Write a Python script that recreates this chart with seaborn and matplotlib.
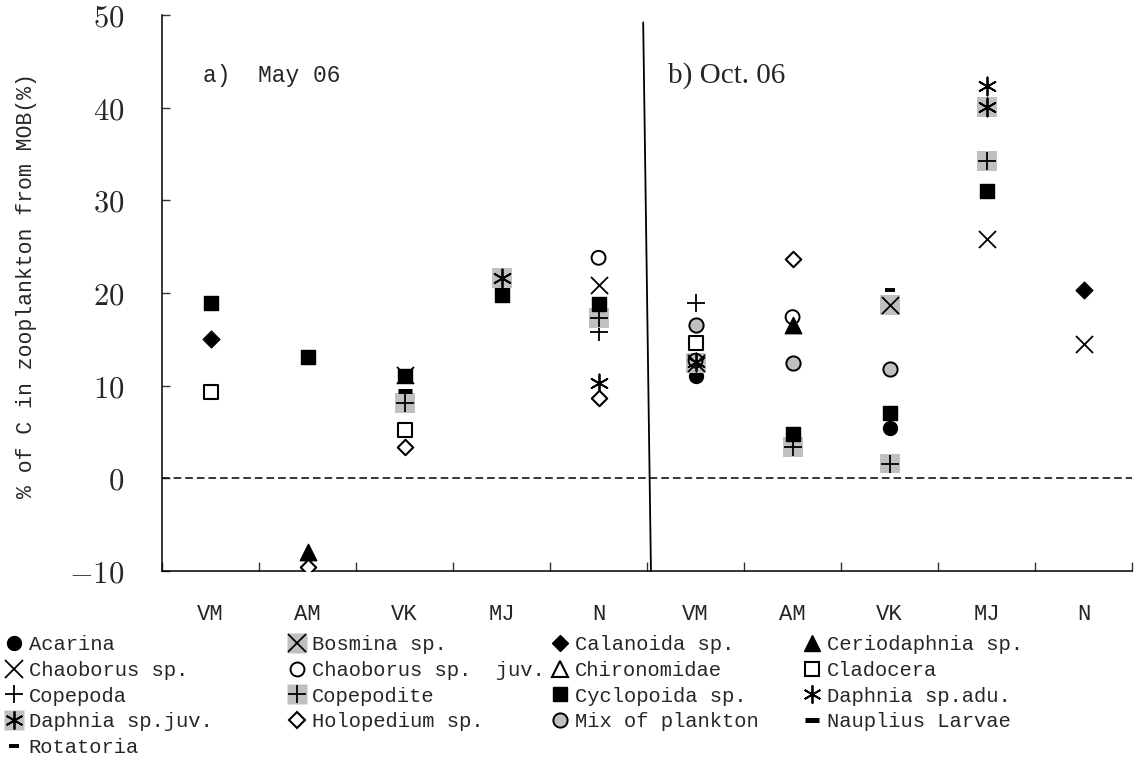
import numpy as np
import pandas as pd
import matplotlib
matplotlib.use("Agg")
import matplotlib.pyplot as plt
import seaborn as sns
from matplotlib.lines import Line2D
from matplotlib.legend_handler import HandlerTuple

nan = np.nan

# ---------------- data ----------------
categories = ["VM", "AM", "VK", "MJ", "N", "VM", "AM", "VK", "MJ", "N"]
yticks = [-10, 0, 10, 20, 30, 40, 50]

acarina       = [nan, nan, nan, nan, nan, 11.0, nan, 5.4, nan, nan]
bosmina       = [nan, nan, nan, nan, nan, 12.4, nan, 18.7, nan, nan]
calanoida     = [15.0, nan, nan, nan, nan, nan, nan, nan, nan, 20.3]
ceriodaphnia  = [nan, -8.0, nan, nan, nan, nan, 16.6, nan, nan, nan]
chaoborus     = [nan, nan, 11.2, nan, 20.9, nan, nan, nan, 25.8, 14.5]
chaoborus_juv = [nan, nan, nan, nan, 23.8, 12.7, 17.4, nan, nan, nan]
chironomidae  = [nan, nan, nan, nan, nan, nan, nan, nan, nan, nan]
cladocera     = [9.3, nan, 5.2, nan, nan, 14.6, nan, nan, nan, nan]
copepoda      = [nan, nan, nan, nan, 15.8, 18.9, nan, nan, nan, nan]
copepodite    = [nan, nan, 8.1, nan, 17.3, nan, 3.4, 1.6, 34.2, nan]
cyclopoida    = [18.9, 13.1, 11.0, 19.8, 18.8, nan, 4.8, 7.0, 31.0, nan]
daphnia_adu   = [nan, nan, nan, nan, 10.3, 12.6, nan, nan, 42.3, nan]
daphnia_juv   = [nan, nan, nan, 21.6, nan, nan, nan, nan, 40.1, nan]
holopedium    = [nan, -9.6, 3.4, nan, 8.7, nan, 23.7, nan, nan, nan]
mix_plankton  = [nan, nan, nan, nan, nan, 16.6, 12.5, 11.8, nan, nan]
nauplius      = [nan, nan, 9.4, 19.3, nan, nan, nan, nan, nan, nan]
rotatoria     = [nan, nan, nan, nan, nan, nan, nan, 20.3, nan, nan]

series = [
    ("Acarina", acarina),
    ("Bosmina sp.", bosmina),
    ("Calanoida sp.", calanoida),
    ("Ceriodaphnia sp.", ceriodaphnia),
    ("Chaoborus sp.", chaoborus),
    ("Chaoborus sp.  juv.", chaoborus_juv),
    ("Chironomidae", chironomidae),
    ("Cladocera", cladocera),
    ("Copepoda", copepoda),
    ("Copepodite", copepodite),
    ("Cyclopoida sp.", cyclopoida),
    ("Daphnia sp.adu.", daphnia_adu),
    ("Daphnia sp.juv.", daphnia_juv),
    ("Holopedium sp.", holopedium),
    ("Mix of plankton", mix_plankton),
    ("Nauplius Larvae", nauplius),
    ("Rotatoria", rotatoria),
]

panel_labels = ["a)  May 06", "b) Oct. 06"]
divider_x = [4.96, 5.04]
divider_y = [49.2, -10.0]

# ---------------- styles ----------------
GRAY = "#c0c0c0"
BOX_S = 205
AST = (6, 2, 0)
styles = {
    "Acarina":             dict(marker="o", s=100, fc="k", lw=1.0, box=False),
    "Bosmina sp.":         dict(marker="x", s=150, fc="k", lw=1.3, box=True),
    "Calanoida sp.":       dict(marker="D", s=72, fc="k", lw=1.0, box=False),
    "Ceriodaphnia sp.":    dict(marker="^", s=140, fc="k", lw=1.0, box=False),
    "Chaoborus sp.":       dict(marker="x", s=150, fc="k", lw=1.3, box=False),
    "Chaoborus sp.  juv.": dict(marker="o", s=100, fc="none", lw=1.4, box=False),
    "Chironomidae":        dict(marker="^", s=140, fc="white", lw=1.5, box=False),
    "Cladocera":           dict(marker="s", s=92, fc="white", lw=1.5, box=False),
    "Copepoda":            dict(marker="+", s=170, fc="k", lw=1.3, box=False),
    "Copepodite":          dict(marker="+", s=170, fc="k", lw=1.3, box=True),
    "Cyclopoida sp.":      dict(marker="s", s=112, fc="k", lw=1.0, box=False),
    "Daphnia sp.adu.":     dict(marker=AST, s=170, fc="k", lw=1.3, box=False),
    "Daphnia sp.juv.":     dict(marker=AST, s=170, fc="k", lw=1.3, box=True),
    "Holopedium sp.":      dict(marker="D", s=62, fc="white", lw=1.5, box=False),
    "Mix of plankton":     dict(marker="o", s=105, fc=GRAY, lw=1.4, box=False),
    "Nauplius Larvae":     dict(marker="_", s=110, fc="k", lw=3.6, box=False),
    "Rotatoria":           dict(marker="_", s=50, fc="k", lw=2.8, box=False),
}

sns.set_style("ticks")
plt.rcParams["font.family"] = ["Liberation Mono", "DejaVu Sans"]
plt.rcParams["mathtext.fontset"] = "cm"

fig = plt.figure(figsize=(11.38, 7.71), dpi=100)
ax = fig.add_axes([0.1424, 0.2594, 0.8524, 0.7211])

xpos = np.arange(len(categories)) + 0.5

for name, vals in series:
    df = pd.DataFrame({"x": xpos, "y": vals}).dropna()
    if df.empty:
        continue
    st = styles[name]
    if st["box"]:
        sns.scatterplot(data=df, x="x", y="y", marker="s", s=BOX_S, color=GRAY,
                        edgecolor="none", linewidth=0, ax=ax, zorder=3, legend=False)
    m = matplotlib.markers.MarkerStyle(st["marker"])
    if m.is_filled():
        sns.scatterplot(data=df, x="x", y="y", marker=st["marker"], s=st["s"],
                        color=st["fc"], edgecolor="k", linewidth=st["lw"],
                        ax=ax, zorder=3, legend=False)
    else:
        sns.scatterplot(data=df, x="x", y="y", marker=st["marker"], s=st["s"],
                        color="k", linewidth=st["lw"], ax=ax, zorder=3, legend=False)

# reference lines
ax.axhline(0, color="k", lw=1.1, ls=(0, (5, 2.6)), zorder=2)
ax.plot(divider_x, divider_y, color="k", lw=1.3, zorder=2, clip_on=False)

# axes
ax.set_xlim(0, len(categories))
ax.set_ylim(yticks[0], yticks[-1])
ax.set_xticks(np.arange(len(categories) + 1))
ax.set_xticklabels([])
ax.set_xticks(xpos, minor=True)
ax.set_xticklabels(categories, minor=True, fontsize=16)
ax.tick_params(axis="x", which="major", direction="in", length=6.5, width=1.0, color="#333333")
ax.tick_params(axis="x", which="minor", length=0, pad=24)
ax.set_yticks(yticks)
ax.set_yticklabels([f"${v}$" for v in yticks], fontsize=22)
ax.tick_params(axis="y", direction="in", length=6, width=1.0, color="#333333", pad=27)
for sp in ["top", "right"]:
    ax.spines[sp].set_visible(False)
for sp in ["left", "bottom"]:
    ax.spines[sp].set_linewidth(1.1)
    ax.spines[sp].set_color("k")
ax.set_xlabel("")
ax.set_ylabel("% of C in zooplankton from MOB(%)", fontsize=15.5)
ax.yaxis.set_label_coords(-0.129, 0.513)

ax.text(0.042, 0.892, panel_labels[0], transform=ax.transAxes, fontsize=16.5,
        va="center", ha="left")
ax.text(0.522, 0.892, panel_labels[1], transform=ax.transAxes, fontsize=21,
        va="center", ha="left", family="Liberation Serif")


# legend handles
def make_handle(st):
    sym = Line2D([], [], linestyle="none", marker=st["marker"],
                 markersize=np.sqrt(st["s"]), markerfacecolor=st["fc"],
                 markeredgecolor="k", markeredgewidth=st["lw"])
    if st["box"]:
        box = Line2D([], [], linestyle="none", marker="s", markersize=np.sqrt(BOX_S),
                     markerfacecolor=GRAY, markeredgecolor="none")
        return (box, sym)
    return sym


names = [n for n, _ in series]
ncol = 4
col_left_px = [4, 287, 550, 802]
legend_top = 1 - 635 / 771
for c in range(ncol):
    col_names = names[c::ncol]
    handles = [make_handle(styles[n]) for n in col_names]
    fig.legend(handles, col_names, loc="upper left",
               bbox_to_anchor=(col_left_px[c] / 1138, legend_top),
               bbox_transform=fig.transFigure, frameon=False, fontsize=14.8,
               handlelength=1.0, handletextpad=0.2, borderpad=0, borderaxespad=0,
               labelspacing=0.33, handler_map={tuple: HandlerTuple(ndivide=1)})

fig.savefig("out.png", dpi=100)
